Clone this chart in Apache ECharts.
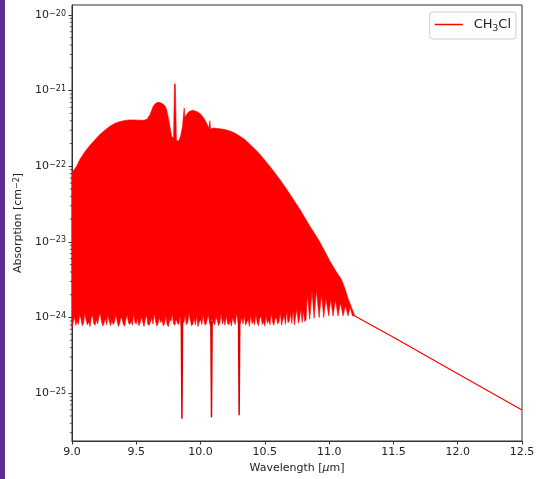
<!DOCTYPE html>
<html>
<head>
<meta charset="utf-8">
<script src="https://cdn.jsdelivr.net/npm/echarts@6/dist/echarts.min.js"></script>
<style>
html,body{margin:0;padding:0;background:#fff;}
#chart{width:538px;height:479px;}
#strip{position:absolute;left:0;top:0;width:5px;height:479px;background:#5a2d8f;z-index:10;}
</style>
</head>
<body>
<div id="strip"></div>
<div id="chart"></div>
<script>
// ---- data ----
const xTicks = [9.0, 9.5, 10.0, 10.5, 11.0, 11.5, 12.0, 12.5];
const seriesName = 'CH3Cl';

// upper envelope of the dense line spectrum
const wlUpper = [9.00, 9.036, 9.062, 9.10, 9.14, 9.18, 9.218, 9.255, 9.295, 9.335, 9.373, 9.41, 9.451, 9.49, 9.528, 9.56, 9.585, 9.606, 9.632, 9.65, 9.671, 9.69, 9.71, 9.725, 9.736, 9.75, 9.761, 9.775, 9.79, 9.797, 9.804, 9.812, 9.83, 9.845, 9.86, 9.868, 9.873, 9.878, 9.89, 9.91, 9.94, 9.97, 10.00, 10.03, 10.05, 10.065, 10.072, 10.078, 10.10, 10.15, 10.19, 10.228, 10.265, 10.305, 10.345, 10.383, 10.42, 10.461, 10.50, 10.538, 10.577, 10.616, 10.655, 10.694, 10.733, 10.772, 10.81, 10.849, 10.888, 10.927, 10.966, 11.005, 11.057, 11.095, 11.12, 11.147, 11.175, 11.20];
const absUpper = [8.2e-23, 1.0e-22, 1.24e-22, 1.55e-22, 1.89e-22, 2.25e-22, 2.64e-22, 3.0e-22, 3.39e-22, 3.7e-22, 3.9e-22, 4.02e-22, 4.1e-22, 4.1e-22, 4.05e-22, 4.05e-22, 4.2e-22, 4.8e-22, 6.2e-22, 6.8e-22, 7.0e-22, 6.9e-22, 6.6e-22, 6.2e-22, 5.6e-22, 4.3e-22, 3.4e-22, 2.5e-22, 2.35e-22, 1.24e-21, 1.2e-21, 2.2e-22, 2.15e-22, 2.5e-22, 3.4e-22, 5.0e-22, 5.9e-22, 4.4e-22, 4.8e-22, 5.3e-22, 5.5e-22, 5.3e-22, 4.9e-22, 4.2e-22, 3.6e-22, 3.2e-22, 4.0e-22, 3.1e-22, 3.2e-22, 3.13e-22, 3.05e-22, 2.92e-22, 2.75e-22, 2.5e-22, 2.25e-22, 1.95e-22, 1.7e-22, 1.44e-22, 1.2e-22, 1.0e-22, 8.2e-23, 6.7e-23, 5.4e-23, 4.3e-23, 3.4e-23, 2.7e-23, 2.1e-23, 1.62e-23, 1.28e-23, 1.0e-23, 7.5e-24, 5.6e-24, 4.0e-24, 3.2e-24, 2.5e-24, 1.78e-24, 1.35e-24, 1.05e-24];

// jagged lower edge of the band, sampled every 0.01 um from 9.00 to 10.82
const lowerStart = 9.00, lowerStep = 0.01;
const absLower = [
 7.5e-25, 8.6e-25, 10.2e-25, 7.9e-25, 9.0e-25, 8.1e-25, 10.9e-25, 9.6e-25, 7.8e-25, 8.4e-25,
 11.6e-25, 9.1e-25, 8.0e-25, 8.8e-25, 7.6e-25, 9.9e-25, 10.7e-25, 8.3e-25, 7.9e-25, 9.4e-25,
 8.2e-25, 10.4e-25, 11.2e-25, 8.7e-25, 7.7e-25, 8.5e-25, 9.8e-25, 8.0e-25, 10.6e-25, 8.9e-25,
 7.8e-25, 9.3e-25, 8.1e-25, 8.6e-25, 11.0e-25, 9.2e-25, 7.6e-25, 8.3e-25, 10.1e-25, 9.5e-25,
 8.0e-25, 7.7e-25, 9.6e-25, 10.8e-25, 8.4e-25, 8.1e-25, 9.0e-25, 7.9e-25, 11.4e-25, 8.6e-25,
 8.2e-25, 9.7e-25, 7.8e-25, 8.5e-25, 10.3e-25, 8.8e-25, 7.6e-25, 9.4e-25, 10.9e-25, 8.1e-25,
 7.9e-25, 8.7e-25, 9.9e-25, 8.2e-25, 11.3e-25, 9.0e-25, 7.7e-25, 8.4e-25, 10.0e-25, 8.6e-25,
 9.2e-25, 7.8e-25, 8.3e-25, 10.6e-25, 8.0e-25, 7.6e-25, 9.5e-25, 8.9e-25, 11.1e-25, 8.2e-25,
 7.9e-25, 9.6e-25, 8.4e-25, 8.1e-25, 10.4e-25, 7.7e-25, 9.1e-25, 8.5e-25, 10.8e-25, 8.0e-25,
 8.6e-25, 11.5e-25, 9.3e-25, 7.8e-25, 8.2e-25, 9.7e-25, 8.0e-25, 10.5e-25, 7.6e-25, 8.8e-25,
 9.4e-25, 8.1e-25, 10.9e-25, 8.4e-25, 7.9e-25, 9.2e-25, 11.0e-25, 8.3e-25, 7.7e-25, 9.8e-25,
 8.5e-25, 8.0e-25, 10.2e-25, 9.1e-25, 7.8e-25, 8.6e-25, 11.2e-25, 8.2e-25, 9.5e-25, 7.9e-25,
 10.7e-25, 8.4e-25, 8.0e-25, 9.3e-25, 7.7e-25, 10.0e-25, 8.8e-25, 8.1e-25, 11.4e-25, 9.0e-25,
 7.8e-25, 8.5e-25, 9.9e-25, 8.2e-25, 10.6e-25, 7.9e-25, 8.7e-25, 9.4e-25, 7.6e-25, 10.8e-25,
 8.3e-25, 9.1e-25, 8.0e-25, 11.1e-25, 8.6e-25, 7.8e-25, 9.7e-25, 10.3e-25, 8.1e-25, 8.9e-25,
 7.7e-25, 10.5e-25, 8.4e-25, 9.2e-25, 8.0e-25, 11.6e-25, 8.7e-25, 7.9e-25, 9.6e-25, 10.1e-25,
 8.2e-25, 8.8e-25, 11.8e-25, 7.9e-25, 9.3e-25, 10.7e-25, 8.1e-25, 12.2e-25, 8.5e-25, 9.0e-25,
 11.4e-25, 8.3e-25, 12.6e-25, 8.0e-25, 10.5e-25, 12.9e-25, 8.4e-25, 9.6e-25, 13.2e-25, 8.6e-25,
 12.4e-25, 8.9e-25, 9.2e-25
];
// comb-shaped lower edge between 10.83 and 11.20 um
const wlComb = [10.83, 10.849, 10.867, 10.883, 10.901, 10.922, 10.940, 10.958, 10.974, 10.997, 11.012, 11.030, 11.049, 11.069, 11.088, 11.108, 11.127, 11.147, 11.163, 11.181, 11.20];
const absComb = [2.0e-24, 9.5e-25, 2.2e-24, 9.8e-25, 2.3e-24, 1.0e-24, 2.0e-24, 1.0e-24, 1.8e-24, 1.05e-24, 1.74e-24, 1.05e-24, 1.7e-24, 1.05e-24, 1.57e-24, 1.05e-24, 1.42e-24, 1.05e-24, 1.38e-24, 1.05e-24, 1.05e-24];

// three deep narrow absorption dips
const spikeWl = [9.855, 10.085, 10.300];
const spikeMin = [4.6e-26, 4.8e-26, 5.1e-26];
const spikeTop = [9.0e-25, 9.0e-25, 9.0e-25];

// smooth continuum tail
const tailWl = [11.20, 11.50, 12.00, 12.50];
const tailAbs = [1.05e-24, 5.5e-25, 1.8e-25, 6.0e-26];

// axis limits
const xMin = 9.0, xMax = 12.5;
const yMin = 2.33e-26, yMax = 1.355e-20;

// ---- build ----
const lowerPts = absLower.map((v, i) => [lowerStart + i * lowerStep, v]);
const combPts = wlComb.map((w, i) => [w, absComb[i]]);
const lowerAll = lowerPts.concat(combPts);
const upperPts = wlUpper.map((w, i) => [w, absUpper[i]]);

const minorVals = [];
for (let e = -26; e <= -21; e++) {
  for (let k = 2; k <= 9; k++) {
    const v = k * Math.pow(10, e);
    if (v > yMin && v < yMax) minorVals.push(v);
  }
}

const FONT = 'DejaVu Sans';
const RED = '#ff0000';
const AX = '#333333';

const series = [];
series.push({
  name: seriesName,
  type: 'custom',
  coordinateSystem: 'cartesian2d',
  itemStyle: {color: RED},
  data: [[10, 1e-23]],
  encode: {x: 0, y: 1},
  z: 2,
  silent: true,
  renderItem: function (params, api) {
    const pts = [];
    upperPts.forEach(p => pts.push(api.coord(p)));
    for (let i = lowerAll.length - 1; i >= 0; i--) pts.push(api.coord(lowerAll[i]));
    return {type: 'polygon', shape: {points: pts}, style: {fill: RED, stroke: RED, lineWidth: 0.6}};
  }
});
spikeWl.forEach((w, i) => {
  series.push({
    name: seriesName,
    type: 'line',
    showSymbol: false,
    silent: true,
    z: 3,
    lineStyle: {color: '#e00000', width: 1.5},
    itemStyle: {color: RED},
    data: [[w - 0.005, spikeTop[i]], [w, spikeMin[i]], [w + 0.005, spikeTop[i]]]
  });
});
series.push({
  name: seriesName,
  type: 'line',
  showSymbol: false,
  silent: true,
  z: 3,
  lineStyle: {color: RED, width: 1.2},
  itemStyle: {color: RED},
  data: tailWl.map((w, i) => [w, tailAbs[i]])
});
// minor log ticks on the left axis
series.push({
  name: 'minor',
  type: 'custom',
  coordinateSystem: 'cartesian2d',
  silent: true,
  clip: false,
  z: 5,
  data: minorVals.map(v => [xMin, v]),
  renderItem: function (params, api) {
    const p = api.coord([xMin, api.value(1)]);
    return {type: 'line', shape: {x1: p[0] - 2.2, y1: p[1], x2: p[0], y2: p[1]}, style: {stroke: AX, lineWidth: 0.8}};
  }
});

const chart = echarts.init(document.getElementById('chart'), null, {renderer: 'canvas'});
chart.setOption({
  animation: false,
  backgroundColor: '#ffffff',
  textStyle: {fontFamily: FONT},
  grid: {left: 72, right: 16, top: 5, bottom: 36, show: true, borderColor: AX, borderWidth: 1, backgroundColor: 'transparent'},
  legend: {
    data: [{name: seriesName, icon: 'rect'}],
    right: 22, top: 12,
    itemWidth: 28, itemHeight: 1.5,
    padding: [6, 5, 6, 5],
    borderColor: '#d0d0d0', borderWidth: 1, borderRadius: 3,
    backgroundColor: '#ffffff',
    selectedMode: false,
    formatter: function () { return '{n|CH}{s|3}{n|Cl}'; },
    textStyle: {
      fontFamily: FONT, fontSize: 13, color: '#222', padding: [0, 0, 0, 6],
      rich: {
        n: {fontFamily: FONT, fontSize: 13, color: '#222', lineHeight: 17},
        s: {fontFamily: FONT, fontSize: 9, color: '#222', lineHeight: 9, verticalAlign: 'bottom'}
      }
    }
  },
  xAxis: {
    type: 'value', min: xMin, max: xMax, interval: 0.5,
    name: 'Wavelength [{i|μ}m]', nameLocation: 'middle', nameGap: 22,
    nameTextStyle: {fontFamily: FONT, fontSize: 11, color: '#222', rich: {i: {fontFamily: FONT, fontSize: 11, fontStyle: 'italic', color: '#222'}}},
    axisLine: {lineStyle: {color: AX}},
    axisTick: {lineStyle: {color: AX}, length: 3.5},
    axisLabel: {fontFamily: FONT, fontSize: 11, color: '#222', margin: 6, formatter: v => v.toFixed(1)},
    splitLine: {show: false}
  },
  yAxis: {
    type: 'log', logBase: 10, min: yMin, max: yMax,
    name: 'Absorption [cm{sup|−2}]', nameLocation: 'middle', nameGap: 48, nameRotate: 90,
    nameTextStyle: {fontFamily: FONT, fontSize: 11, color: '#222', rich: {sup: {fontFamily: FONT, fontSize: 8, color: '#222', verticalAlign: 'top', lineHeight: 8}}},
    axisLine: {lineStyle: {color: AX}},
    axisTick: {lineStyle: {color: AX}, length: 3.5},
    axisLabel: {
      fontFamily: FONT, fontSize: 11, color: '#222', margin: 6,
      showMinLabel: false, showMaxLabel: false,
      formatter: function (v) {
        const e = Math.round(Math.log10(v));
        return '10{sup|' + (e < 0 ? '−' + (-e) : e) + '}';
      },
      rich: {sup: {fontFamily: FONT, fontSize: 8, color: '#222', verticalAlign: 'top', lineHeight: 8, padding: [0, 0, 6, 0]}}
    },
    splitLine: {show: false}
  },
  series: series
});
</script>
</body>
</html>
